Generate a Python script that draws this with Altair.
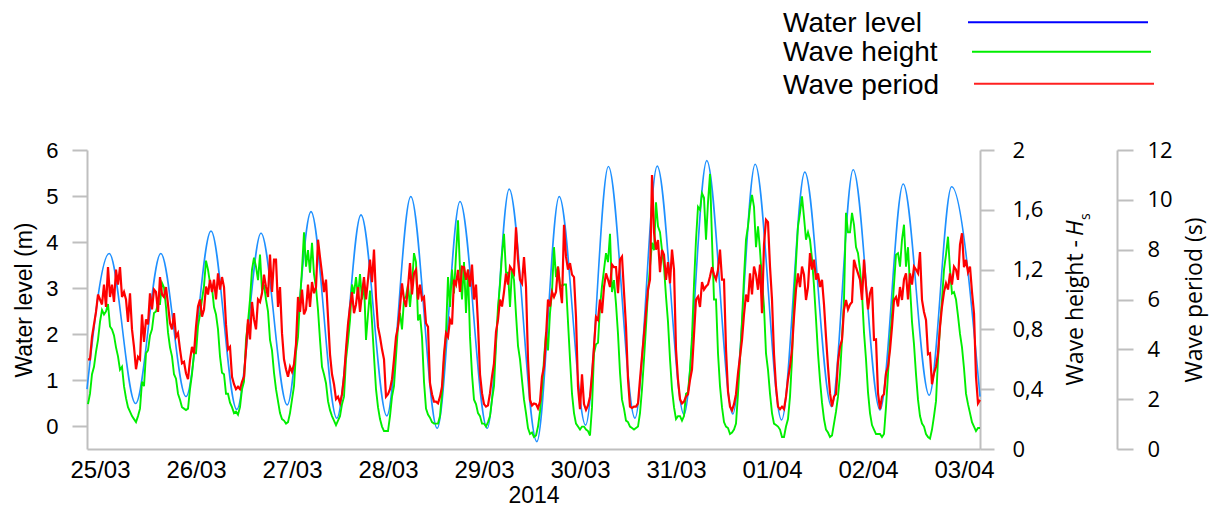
import json
import altair as alt
import pandas as pd

# ---------------- data ----------------
day_labels = ['25/03', '26/03', '27/03', '28/03', '29/03', '30/03',
              '31/03', '01/04', '02/04', '03/04']
year_label = '2014'

# water level: turning points of the tide (hours from 25/03 00:00, metres)
hours_wl = [-3.25, 2.3, 8.9, 15.2, 21.5, 27.75, 34.2, 40.25, 46.8, 52.75,
            59.2, 65.25, 71.7, 77.7, 84.3, 90.0, 96.8, 102.3, 109.2, 114.8,
            121.4, 127.1, 133.75, 139.3, 146.0, 151.7, 158.2, 163.8, 170.4, 176.2,
            182.9, 188.3, 195.0, 200.8, 207.3, 212.9, 220.0]
water_level = [0.8, 3.75, 0.49, 3.75, 0.64, 4.24, 0.36, 4.19, 0.46, 4.66,
               0.17, 4.59, 0.22, 4.99, -0.05, 4.88, -0.05, 5.15, -0.34, 4.99,
               0.02, 5.64, 0.17, 5.65, 0.25, 5.77, 0.26, 5.69, 0.13, 5.52,
               0.42, 5.57, 0.35, 5.26, 0.67, 5.2, 0.64]

# wave records on the full hours (hours from 25/03 00:00)
hours_full = list(range(-3, 221))
wave_height_full = [
    0.3, 0.5, 0.65, 0.85, 0.9, 0.97, 0.8, 0.68, 0.53, 0.42, 0.28, 0.22, 0.18, 0.27,
    0.42, 0.66, 0.8, 0.92, 0.97, 1.08, 0.78, 0.62, 0.47, 0.33, 0.27, 0.27, 0.5, 0.64,
    0.9, 1.09, 1.2, 1.08, 0.9, 0.62, 0.5, 0.37, 0.28, 0.25, 0.28,
    0.45, 0.85, 1.2, 1.22, 1.3, 1.1, 0.92, 0.66, 0.4, 0.24, 0.19, 0.18, 0.33, 0.65,
    1.0, 1.45, 1.33, 1.38, 1.08, 0.73, 0.5, 0.32, 0.22, 0.16, 0.22, 0.35, 0.72, 1.1,
    1.15, 1.17, 1.12, 0.9, 0.85, 0.4, 0.2, 0.12, 0.12,
    0.35, 0.62, 0.91, 1.0, 1.1, 1.1, 1.25, 0.9, 0.45, 0.23, 0.18, 0.17, 0.22, 0.6,
    1.15, 1.2, 1.3, 1.2, 1.25, 1.2, 0.5, 0.3, 0.22, 0.17, 0.18, 0.33, 0.7, 1.1,
    1.44, 1.18, 1.2, 0.9, 0.6, 0.33, 0.14, 0.11, 0.09, 0.25,
    0.6, 0.66, 1.05, 1.15, 1.1, 1.1, 0.85, 0.37, 0.17, 0.13, 0.15, 0.12, 0.28, 0.7,
    0.95, 1.2, 1.25, 1.05, 0.97, 0.51, 0.27, 0.18, 0.14, 0.14, 0.24, 0.6, 1.05, 1.38,
    1.65, 1.45, 1.22, 0.85, 0.4, 0.2, 0.22, 0.22, 0.38,
    0.75, 1.4, 1.6, 1.68, 1.65, 1.4, 1.0, 0.42, 0.18, 0.14, 0.11, 0.17, 0.6, 1.15,
    1.49, 1.7, 1.35, 1.33, 0.95, 0.53, 0.24, 0.16, 0.13, 0.08, 0.2, 0.6, 1.25, 1.58,
    1.55, 1.45, 1.27, 0.87, 0.46, 0.2, 0.11, 0.09, 0.25, 0.5,
    1.0, 1.45, 1.58, 1.35, 1.2, 0.78, 0.38, 0.16, 0.1, 0.1, 0.1, 0.5, 0.9, 1.3,
    1.22, 1.5, 1.35, 0.85, 0.5, 0.22, 0.15, 0.08, 0.13, 0.32, 0.82, 1.2, 1.42, 1.04,
    1.0, 0.77, 0.54, 0.3, 0.18, 0.12, 0.14]
wave_period_full = [
    3.6, 4.5, 5.5, 6.0, 6.6, 7.3, 6.6, 7.2, 7.3, 6.3, 5.1, 4.8, 3.2, 3.6,
    4.3, 5.0, 5.6, 6.3, 6.9, 6.1, 5.8, 4.8, 4.5, 4.0, 3.5, 2.8, 4.1, 4.9,
    6.0, 5.6, 6.2, 6.3, 6.0, 6.4, 6.5, 4.0, 2.9, 2.4, 2.4,
    2.9, 5.2, 5.9, 4.8, 5.9, 7.0, 6.1, 6.3, 7.6, 6.5, 3.6, 2.9, 3.1, 4.2,
    5.5, 5.4, 6.6, 6.7, 6.5, 7.7, 6.3, 5.3, 3.0, 2.0, 1.85, 2.9, 5.0, 6.3,
    5.8, 5.5, 6.9, 6.8, 6.7, 6.1, 4.5, 3.6, 2.2,
    2.8, 4.5, 5.7, 6.0, 6.5, 6.2, 7.2, 6.6, 6.1, 4.9, 2.2, 1.9, 2.1, 3.8,
    4.5, 5.0, 6.6, 6.3, 7.3, 7.2, 7.4, 6.6, 3.0, 1.8, 1.75, 2.9, 4.7, 6.0,
    6.3, 6.6, 7.2, 8.9, 6.8, 7.7, 3.6, 1.75, 1.8, 1.9,
    3.3, 6.0, 6.3, 6.3, 6.5, 9.0, 7.2, 7.0, 5.3, 1.6, 1.8, 1.75, 3.0, 5.3,
    6.0, 6.5, 6.8, 7.4, 7.3, 7.6, 6.3, 2.8, 1.65, 1.7, 2.8, 4.6, 6.4, 11.0,
    8.0, 7.1, 7.8, 7.5, 8.0, 4.0, 2.0, 1.9, 2.2,
    3.2, 6.0, 5.7, 6.4, 6.6, 7.3, 6.8, 8.0, 6.8, 2.3, 1.55, 2.2, 3.7, 5.4,
    5.9, 6.2, 7.0, 7.4, 8.2, 9.1, 6.0, 2.5, 1.6, 1.6, 2.8, 4.0, 6.4, 6.5,
    7.0, 6.5, 7.2, 6.8, 6.5, 5.8, 3.3, 1.7, 2.2, 4.1,
    5.6, 5.6, 5.9, 7.3, 6.8, 7.6, 5.6, 6.5, 4.4, 1.6, 2.2, 3.3, 4.9, 6.1,
    6.5, 6.8, 6.0, 6.6, 7.2, 7.9, 5.5, 3.8, 2.6, 3.3, 4.9, 6.3, 6.4, 6.6,
    7.2, 8.2, 7.3, 7.1, 6.3, 2.9, 1.97]

# wave records on the half hours (-2.5 ... 219.5)
hours_half = [h + 0.5 for h in range(-3, 220)]
wave_height_half = [
    0.37, 0.55, 0.73, 0.93, 0.92, 0.82, 0.76, 0.62, 0.55, 0.34, 0.25, 0.2, 0.22, 0.45,
    0.64, 0.76, 0.91, 0.97, 1.11, 0.95, 0.68, 0.5, 0.37, 0.28, 0.26, 0.4, 0.64, 0.82,
    1.0, 1.26, 1.11, 0.95, 0.8, 0.51, 0.37, 0.31, 0.24, 0.23,
    0.4, 0.73, 1.0, 1.28, 1.13, 1.06, 1.0, 0.73, 0.51, 0.32, 0.2, 0.17, 0.24, 0.42,
    0.75, 1.2, 1.22, 1.18, 1.17, 0.93, 0.55, 0.44, 0.26, 0.19, 0.19, 0.3, 0.6, 0.86,
    1.04, 1.02, 1.0, 0.73, 1.06, 0.62, 0.28, 0.15, 0.12,
    0.22, 0.42, 0.82, 0.8, 1.02, 0.95, 1.31, 0.86, 0.75, 0.27, 0.21, 0.17, 0.17, 0.37,
    0.77, 0.95, 1.04, 1.53, 1.0, 0.91, 0.75, 0.33, 0.24, 0.17, 0.15, 0.22, 0.42, 0.95,
    1.3, 1.18, 0.95, 1.13, 0.69, 0.46, 0.24, 0.1, 0.08, 0.15,
    0.4, 0.78, 0.91, 1.35, 1.22, 1.09, 1.1, 0.6, 0.24, 0.15, 0.15, 0.13, 0.09, 0.64,
    0.71, 1.09, 1.31, 1.44, 1.13, 0.77, 0.33, 0.19, 0.15, 0.13, 0.15, 0.4, 0.82, 1.22,
    1.33, 1.49, 1.33, 1.02, 0.6, 0.28, 0.22, 0.19, 0.37,
    0.53, 1.1, 1.62, 1.71, 1.4, 1.84, 1.0, 0.64, 0.28, 0.15, 0.1, 0.13, 0.37, 0.86,
    1.4, 1.62, 1.62, 1.49, 1.13, 0.64, 0.37, 0.17, 0.15, 0.08, 0.15, 0.35, 1.0, 1.49,
    1.69, 1.4, 1.4, 1.09, 0.64, 0.31, 0.13, 0.08, 0.17, 0.35,
    0.73, 1.58, 1.45, 1.5, 1.31, 1.04, 0.6, 0.24, 0.13, 0.1, 0.08, 0.28, 0.73, 1.1,
    1.31, 1.4, 1.22, 1.09, 0.7, 0.33, 0.17, 0.1, 0.07, 0.22, 0.6, 1.0, 1.3, 1.2,
    1.05, 0.89, 0.68, 0.37, 0.24, 0.15, 0.14]
wave_period_half = [
    3.6, 5.0, 6.2, 5.8, 5.7, 6.1, 5.9, 6.6, 6.1, 6.0, 6.25, 4.1, 3.7, 5.4,
    5.2, 6.25, 6.4, 5.5, 6.2, 6.5, 5.05, 5.45, 4.65, 3.44, 3.04, 3.57, 3.84, 5.72,
    5.31, 6.52, 6.79, 6.8, 7.05, 6.9, 5.0, 4.1, 2.6, 2.5,
    2.7, 4.0, 4.4, 5.2, 6.0, 6.25, 6.5, 7.8, 7.6, 5.7, 4.65, 3.2, 3.3, 3.4,
    6.1, 6.4, 5.6, 5.7, 6.25, 8.4, 7.05, 6.8, 3.8, 2.6, 2.1, 2.2, 4.0, 5.7,
    5.45, 6.5, 6.25, 6.0, 7.6, 8.0, 4.9, 4.0, 2.1,
    2.4, 3.6, 4.9, 6.65, 5.7, 7.46, 7.05, 6.0, 6.0, 5.05, 2.64, 1.9, 1.83, 2.5,
    4.65, 5.18, 6.79, 7.19, 7.32, 6.79, 6.52, 6.0, 5.0, 2.24, 1.7, 2.24, 3.44, 5.18,
    5.72, 7.05, 7.32, 7.05, 7.59, 6.65, 6.52, 1.97, 1.83, 1.63,
    2.9, 4.5, 5.72, 6.1, 7.32, 5.85, 7.72, 7.46, 6.9, 2.5, 3.0, 1.57, 2.1, 4.1,
    5.18, 5.45, 7.05, 6.5, 7.3, 6.25, 7.72, 4.9, 1.7, 1.7, 1.83, 3.71, 5.5, 6.8,
    8.7, 8.39, 7.99, 6.79, 6.65, 7.2, 2.77, 1.83, 2.1,
    2.77, 4.6, 6.12, 6.7, 6.52, 6.92, 7.0, 7.19, 6.8, 4.0, 1.7, 1.8, 3.04, 4.38,
    6.2, 7.05, 7.32, 6.39, 5.45, 9.2, 7.32, 3.8, 1.7, 1.7, 2.1, 3.31, 5.3, 7.05,
    7.32, 5.98, 7.86, 7.6, 7.05, 6.79, 4.5, 2.24, 2.1, 3.5,
    4.38, 5.98, 5.8, 7.59, 7.05, 5.98, 6.52, 6.25, 4.38, 2.24, 2.1, 3.04, 3.98, 5.98,
    5.72, 5.98, 7.05, 7.05, 7.32, 7.05, 5.98, 5.18, 3.84, 3.04, 3.84, 5.72, 6.65, 7.05,
    7.32, 6.79, 8.66, 7.59, 7.32, 5.45, 1.83]

series_names = ['Water level', 'Wave height', 'Wave period']
line_colors = ['#1e90ff', '#00ee00', '#ff0000']
legend_colors = ['#0000ff', '#00ee00', '#ff2020']

# ---------------- chart ----------------
df_wl = pd.DataFrame({'hour': hours_wl, 'level': water_level})
df_wave = pd.concat([
    pd.DataFrame({'hour': hours_full, 'height': wave_height_full, 'period': wave_period_full}),
    pd.DataFrame({'hour': hours_half, 'height': wave_height_half, 'period': wave_period_half}),
]).sort_values('hour').reset_index(drop=True)

GRAY = '#bfbfbf'
SANS = 'Liberation Sans, Arial, sans-serif'
OPEN = 'Open Sans, sans-serif'

label_expr = json.dumps(day_labels) + '[round(datum.value / 24)]'
x_enc = alt.X(
    'hour:Q',
    scale=alt.Scale(domain=[-3.25, 220], nice=False, zero=False),
    axis=alt.Axis(values=[24 * i for i in range(len(day_labels))], labelExpr=label_expr,
                  ticks=False, grid=False, domainColor=GRAY, domainWidth=2,
                  labelFont=SANS, labelFontSize=24, labelColor='black',
                  labelPadding=9, labelFlush=False, labelOverlap=False,
                  title=year_label, titleFont=SANS, titleFontSize=23,
                  titleFontWeight='normal', titleColor='black', titlePadding=2))

blue = alt.Chart(df_wl).mark_line(color=line_colors[0], strokeWidth=1.6,
                                  interpolate='monotone').encode(
    x=x_enc,
    y=alt.Y('level:Q', scale=alt.Scale(domain=[-0.5, 6], nice=False, zero=False),
            axis=alt.Axis(values=list(range(0, 7)), orient='left', grid=False,
                          tickSize=15, tickColor=GRAY, tickWidth=2,
                          domainColor=GRAY, domainWidth=2,
                          labelFont=SANS, labelFontSize=22, labelColor='black',
                          labelPadding=14,
                          title='Water level (m)', titleFont=SANS, titleFontSize=23,
                          titleFontWeight='normal', titleColor='black', titlePadding=9)))

green = alt.Chart(df_wave).mark_line(color=line_colors[1], strokeWidth=1.9).encode(
    x=x_enc,
    y=alt.Y('height:Q', scale=alt.Scale(domain=[0, 2], nice=False, zero=False),
            axis=alt.Axis(values=[0, 0.4, 0.8, 1.2, 1.6, 2.0], orient='right', grid=False,
                          labelExpr="replace(format(datum.value, '.1~f'), '.', ',')",
                          tickSize=14, tickColor=GRAY, tickWidth=2,
                          domainColor=GRAY, domainWidth=2,
                          labelFont=OPEN, labelFontSize=22, labelColor='black',
                          labelPadding=18, title=None)))

red = alt.Chart(df_wave).mark_line(color=line_colors[2], strokeWidth=2.2).encode(
    x=x_enc,
    y=alt.Y('period:Q', scale=alt.Scale(domain=[0, 12], nice=False, zero=False),
            axis=alt.Axis(values=list(range(0, 13, 2)), orient='right', offset=137,
                          grid=False, tickSize=16, tickColor=GRAY, tickWidth=2,
                          domainColor=GRAY, domainWidth=2,
                          labelFont=OPEN, labelFontSize=22, labelColor='black',
                          labelPadding=14,
                          title='Wave period (s)', titleFont=OPEN, titleFontSize=23,
                          titleFontWeight='normal', titleColor='black',
                          titleAngle=270, titlePadding=34)))

# title of the wave-height axis, with italic H and subscript s
one = pd.DataFrame({'k': [0]})
hs_title = alt.layer(
    alt.Chart(one).mark_text(text='Wave height -', angle=270, align='right',
                             baseline='alphabetic', font=OPEN, fontSize=23,
                             color='black').encode(x=alt.value(996), y=alt.value(90)),
    alt.Chart(one).mark_text(text='H', angle=270, align='left', baseline='alphabetic',
                             font=OPEN, fontSize=23, fontStyle='italic',
                             color='black').encode(x=alt.value(996), y=alt.value(86)),
    alt.Chart(one).mark_text(text='s', angle=270, align='left', baseline='alphabetic',
                             font=OPEN, fontSize=14, color='black').encode(
        x=alt.value(1003), y=alt.value(70)),
)

# legend drawn at the top right
legend_text_y = [-118, -89, -56]
legend_rule = [(881, 1061, -127.7), (885, 1064, -98.3), (887, 1067, -66.3)]
legend_layers = []
for i, name in enumerate(series_names):
    legend_layers.append(
        alt.Chart(pd.DataFrame({'name': [name]})).mark_text(
            align='left', baseline='alphabetic', font=SANS, fontSize=28,
            color='black').encode(text='name:N', x=alt.value(696),
                                  y=alt.value(legend_text_y[i])))
    x1, x2, yy = legend_rule[i]
    legend_layers.append(
        alt.Chart(pd.DataFrame({'name': [name]})).mark_rule(
            color=legend_colors[i], strokeWidth=2).encode(
            x=alt.value(x1), x2=alt.value(x2), y=alt.value(yy)))

chart = alt.layer(blue, green, red, hs_title, *legend_layers).resolve_scale(
    y='independent'
).properties(
    width=893, height=299,
    autosize=alt.AutoSizeParams(type='none'),
    padding={'left': 87, 'top': 150, 'right': 237, 'bottom': 63},
    background='white'
).configure_view(stroke=None)

chart.save('out.html', embed_options={'renderer': 'svg', 'actions': False})
